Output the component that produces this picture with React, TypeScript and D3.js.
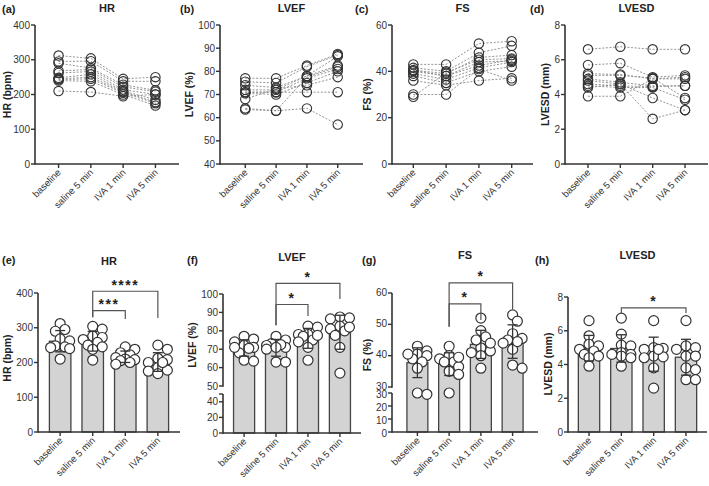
import React from "react";
import * as d3 from "d3";

const timepoints = ["baseline", "saline 5 min", "IVA 1 min", "IVA 5 min"];

// one array per time point, subjects in the same order
const hrValues = [
  [312, 295, 290, 268, 262, 248, 245, 243, 240, 210],
  [304, 296, 276, 272, 266, 258, 250, 245, 238, 207],
  [245, 238, 228, 222, 214, 210, 208, 205, 200, 195],
  [250, 238, 212, 208, 200, 185, 178, 175, 168, 200],
];
const lvefValues = [
  [77, 75.5, 74, 72, 71, 70.5, 68, 64, 63.5, 71],
  [77, 75, 73, 72, 71, 70, 72.5, 63, 63, 71],
  [82.5, 82, 78, 78, 77, 75, 74, 64, 77.5, 71],
  [87.5, 87, 82.5, 86.5, 81, 80, 77.5, 57, 82, 71],
];
const fsValues = [
  [43, 41.5, 40.5, 40, 39, 38, 36, 30, 29, 40.5],
  [43, 40, 39, 38, 36.5, 35, 34, 30, 39.5, 38],
  [52, 48, 46, 42.5, 41.5, 40, 36, 41, 45, 44],
  [53, 51, 47, 45, 44, 42, 37, 36, 45.5, 44.5],
];
const lvesdValues = [
  [6.6, 5.7, 5.2, 5.1, 4.9, 4.8, 4.6, 4.5, 4.4, 3.9],
  [6.75, 5.8, 5.15, 5.1, 4.7, 4.6, 4.5, 4.4, 4.6, 3.9],
  [6.6, 5.0, 4.9, 4.95, 4.5, 3.8, 4.45, 4.4, 2.6, 4.9],
  [6.6, 5.1, 5.0, 3.8, 4.5, 3.1, 4.5, 3.7, 3.1, 4.9],
];

const hrTicks = [0, 100, 200, 300, 400];
const lvefTicks = [40, 50, 60, 70, 80, 90, 100];
const fsTicks = [0, 20, 40, 60];
const lvesdTicks = [0, 2, 4, 6, 8];

// significance: [group a, group b, label, bracket y, leg a bottom, leg b bottom]
const hrSig = [
  [1, 3, "****", 405, 330, 328],
  [1, 2, "***", 349, 330, 325],
];
const lvefSig = [
  [1, 3, "*", 105.8, 83, 97.3],
  [1, 2, "*", 94.3, 83, 88],
];
const fsSig = [
  [1, 3, "*", 63.2, 49.2, 54.9],
  [1, 2, "*", 56.5, 49.2, 51.4],
];
const lvesdSig = [[1, 3, "*", 7.35, 7.05, 7.05]];

const FONT = "'Liberation Sans', Arial, Helvetica, sans-serif";
const INK = "#333";

// simple deterministic spread so points with close values sit side by side
function swarm(vals: number[], y: (v: number) => number, r: number) {
  const order = d3.range(vals.length).sort((a, b) => vals[b] - vals[a]);
  const placed: { x: number; y: number }[] = [];
  const dx = new Array(vals.length).fill(0);
  const steps = [0, 1, -1, 2, -2];
  const minD = r * 1.5;
  for (const i of order) {
    const py = y(vals[i]);
    let best = 0;
    let bestOverlap = Infinity;
    for (const s of steps) {
      const px = s * r * 0.95;
      let overlap = 0;
      for (const p of placed) {
        const d = Math.hypot(p.x - px, p.y - py);
        if (d < minD) overlap += minD - d;
      }
      if (overlap < bestOverlap - 1e-6) {
        bestOverlap = overlap;
        best = px;
      }
      if (overlap === 0) break;
    }
    dx[i] = best;
    placed.push({ x: best, y: py });
  }
  return dx;
}

function XAxis({ x, x0, x1, yb }: any) {
  return (
    <g>
      <line x1={x0} x2={x1} y1={yb} y2={yb} stroke={INK} strokeWidth={1.6} />
      {timepoints.map((t) => (
        <g key={t}>
          <line x1={x(t)} x2={x(t)} y1={yb} y2={yb + 4} stroke={INK} strokeWidth={1.4} />
          <text
            transform={`translate(${x(t) + 3},${yb + 9}) rotate(-45)`}
            textAnchor="end"
            fontSize={9.5}
            fill={INK}
            fontFamily={FONT}
          >
            {t}
          </text>
        </g>
      ))}
    </g>
  );
}

function YSegment({ scale, ticks, x0, extraTick, labelDy = 0 }: any) {
  const [r0, r1] = scale.range();
  return (
    <g>
      <line x1={x0} x2={x0} y1={r0 + 0.8} y2={r1} stroke={INK} strokeWidth={1.6} />
      {ticks.map((t: number) => (
        <g key={t}>
          <line x1={x0 - 4} x2={x0} y1={scale(t)} y2={scale(t)} stroke={INK} strokeWidth={1.4} />
          <text x={x0 - 5} y={scale(t) + labelDy} dy="0.35em" textAnchor="end" fontSize={10} fill={INK} fontFamily={FONT}>
            {t}
          </text>
        </g>
      ))}
      {extraTick != null && (
        <line x1={x0 - 4} x2={x0} y1={scale(extraTick)} y2={scale(extraTick)} stroke={INK} strokeWidth={1.4} />
      )}
    </g>
  );
}

function Labels({ letter, title, yLabel, x0, x1, titleY, letterX, letterY, yLabelY, nChars }: any) {
  const lx = Math.max(7, x0 - 14 - 5.5 * nChars);
  return (
    <g fontFamily={FONT} fontWeight="bold" fill="#222">
      <text x={letterX} y={letterY} fontSize={11}>
        {letter}
      </text>
      <text x={(x0 + x1) / 2} y={titleY} fontSize={11} textAnchor="middle">
        {title}
      </text>
      <text transform={`translate(${lx},${yLabelY}) rotate(-90)`} textAnchor="middle" dy="0.35em" fontSize={10.5}>
        {yLabel}
      </text>
    </g>
  );
}

function TopPanel({ letter, title, yLabel, values, yDomain, yTicks, x0, x1, pad, letterX }: any) {
  const yt = 25;
  const yb = 164;
  const x = d3.scalePoint<string>().domain(timepoints).range([x0, x1]).padding(pad);
  const y = d3.scaleLinear().domain(yDomain).range([yb, yt]);
  const n = values[0].length;
  const line = d3
    .line<number>()
    .x((_, t) => x(timepoints[t]) as number)
    .y((v) => y(v));
  const nChars = d3.max(yTicks, (t: number) => String(t).length) as number;
  return (
    <g>
      <Labels
        letter={letter}
        title={title}
        yLabel={yLabel}
        x0={x0}
        x1={x1}
        titleY={12}
        letterX={letterX}
        letterY={13}
        yLabelY={(yt + yb) / 2}
        nChars={nChars}
      />
      {d3.range(n).map((i) => (
        <path
          key={i}
          d={line(values.map((col: number[]) => col[i])) as string}
          fill="none"
          stroke="#888"
          strokeWidth={0.9}
          strokeDasharray="2,1.6"
        />
      ))}
      {values.map((col: number[], t: number) =>
        col.map((v, i) => (
          <circle key={t + "-" + i} cx={x(timepoints[t])} cy={y(v)} r={4.7} fill="none" stroke={INK} strokeWidth={1.1} />
        ))
      )}
      <YSegment scale={y} ticks={yTicks} x0={x0} />
      <XAxis x={x} x0={x0} x1={x1} yb={yb} />
    </g>
  );
}

function BottomPanel({ letter, title, yLabel, values, segments, sig, x0, x1, pad, titleY, letterX, yLabelY }: any) {
  const yb = segments[0].range[0];
  const x = d3.scalePoint<string>().domain(timepoints).range([x0, x1]).padding(pad);
  const bw = x.step() * 0.66;
  const scales = segments.map((s: any) => d3.scaleLinear().domain(s.domain).range(s.range));
  const y = (v: number) => {
    for (let k = 0; k < segments.length; k++) {
      if (v <= segments[k].domain[1] || k === segments.length - 1) return scales[k](v);
    }
    return 0;
  };
  const nChars = d3.max(segments.flatMap((s: any) => s.ticks), (t: number) => String(t).length) as number;
  const r = 5;
  return (
    <g>
      <Labels
        letter={letter}
        title={title}
        yLabel={yLabel}
        x0={x0}
        x1={x1}
        titleY={titleY}
        letterX={letterX}
        letterY={264}
        yLabelY={yLabelY}
        nChars={nChars}
      />
      {values.map((col: number[], t: number) => {
        const m = d3.mean(col) as number;
        const cx = x(timepoints[t]) as number;
        return (
          <rect key={t} x={cx - bw / 2} y={y(m)} width={bw} height={yb - y(m)} fill="#d3d3d3" stroke="#444" strokeWidth={1.3} />
        );
      })}
      {segments.length > 1 && (
        <rect
          x={x0 - 6}
          y={segments[0].range[1] - 0.5}
          width={x1 - x0 + 6}
          height={segments[1].range[0] - segments[0].range[1] + 1}
          fill="white"
        />
      )}
      {segments.map((s: any, k: number) => (
        <YSegment key={k} scale={scales[k]} ticks={s.ticks} x0={x0} extraTick={s.extraTick} labelDy={s.labelDy || 0} />
      ))}
      <XAxis x={x} x0={x0} x1={x1} yb={yb} />
      {values.map((col: number[], t: number) => {
        const cx = x(timepoints[t]) as number;
        const dx = swarm(col, y, r);
        return col.map((v, i) => (
          <circle key={t + "-" + i} cx={cx + dx[i]} cy={y(v)} r={r} fill="white" stroke={INK} strokeWidth={1.2} />
        ));
      })}
      {values.map((col: number[], t: number) => {
        const m = d3.mean(col) as number;
        const sd = d3.deviation(col) as number;
        const cx = x(timepoints[t]) as number;
        return (
          <g key={t} stroke={INK} strokeWidth={1.3}>
            <line x1={cx} x2={cx} y1={y(m - sd)} y2={y(m + sd)} />
            <line x1={cx - 5} x2={cx + 5} y1={y(m - sd)} y2={y(m - sd)} />
            <line x1={cx - 5} x2={cx + 5} y1={y(m + sd)} y2={y(m + sd)} />
          </g>
        );
      })}
      {sig.map((s: any, k: number) => {
        const [a, b, label, top, legA, legB] = s;
        const xa = x(timepoints[a]) as number;
        const xb = x(timepoints[b]) as number;
        const yy = y(top);
        return (
          <g key={k}>
            <path d={`M${xa},${y(legA)}V${yy}H${xb}V${y(legB)}`} fill="none" stroke="#555" strokeWidth={1.2} />
            <text
              x={(xa + xb) / 2}
              y={yy - 1.5}
              textAnchor="middle"
              fontSize={14}
              fontWeight="bold"
              letterSpacing={1.5}
              fill="#222"
              fontFamily={FONT}
            >
              {label}
            </text>
          </g>
        );
      })}
    </g>
  );
}

export default function App() {
  return (
    <div style={{ position: "absolute", left: 0, top: 0, background: "white" }}>
      <svg width={709} height={486} style={{ display: "block" }}>
        <rect width={709} height={486} fill="white" />
        <TopPanel letter="(a)" title="HR" yLabel="HR (bpm)" values={hrValues} yDomain={[0, 400]} yTicks={hrTicks} x0={35} x1={179} pad={0.73} letterX={2} />
        <TopPanel letter="(b)" title="LVEF" yLabel="LVEF (%)" values={lvefValues} yDomain={[40, 100]} yTicks={lvefTicks} x0={220} x1={363} pad={0.82} letterX={180} />
        <TopPanel letter="(c)" title="FS" yLabel="FS (%)" values={fsValues} yDomain={[0, 60]} yTicks={fsTicks} x0={392} x1={533} pad={0.65} letterX={355} />
        <TopPanel letter="(d)" title="LVESD" yLabel="LVESD (mm)" values={lvesdValues} yDomain={[0, 8]} yTicks={lvesdTicks} x0={565} x1={708} pad={0.71} letterX={530} />

        <BottomPanel
          letter="(e)" title="HR" yLabel="HR (bpm)" values={hrValues}
          segments={[{ domain: [0, 400], range: [432, 293], ticks: hrTicks }]}
          sig={hrSig} x0={38} x1={180} pad={0.68} titleY={265} letterX={2} yLabelY={358}
        />
        <BottomPanel
          letter="(f)" title="LVEF" yLabel="LVEF (%)" values={lvefValues}
          segments={[
            { domain: [0, 50], range: [433, 394], ticks: [0, 20, 40], extraTick: 50 },
            { domain: [50, 100], range: [386, 294], ticks: [50, 60, 70, 80, 90, 100] },
          ]}
          sig={lvefSig} x0={223} x1={361} pad={0.66} titleY={261} letterX={187} yLabelY={345}
        />
        <BottomPanel
          letter="(g)" title="FS" yLabel="FS (%)" values={fsValues}
          segments={[
            { domain: [0, 30], range: [432, 393], ticks: [0, 10, 20, 30], labelDy: 1 },
            { domain: [30, 60], range: [387, 293], ticks: [30, 40, 50, 60], labelDy: -1 },
          ]}
          sig={fsSig} x0={392} x1={538} pad={0.8} titleY={259} letterX={362} yLabelY={355}
        />
        <BottomPanel
          letter="(h)" title="LVESD" yLabel="LVESD (mm)" values={lvesdValues}
          segments={[{ domain: [0, 8], range: [432, 297], ticks: lvesdTicks }]}
          sig={lvesdSig} x0={568} x1={707} pad={0.65} titleY={259} letterX={535} yLabelY={364}
        />
      </svg>
    </div>
  );
}
